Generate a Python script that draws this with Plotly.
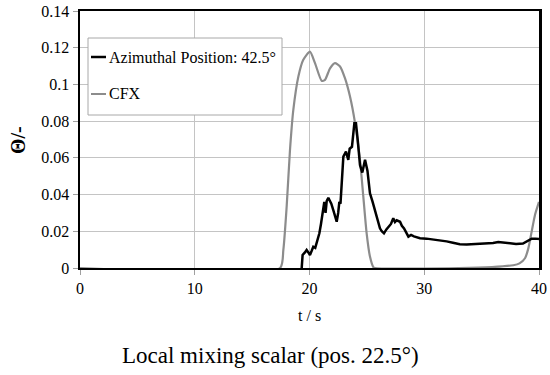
import plotly.graph_objects as go

# ---- data ----
series_names = ["Azimuthal Position: 42.5°", "CFX"]

t_exp = [19.32, 19.36, 19.4, 19.6, 19.75, 19.9, 20.04, 20.2, 20.33, 20.5, 20.7, 20.86, 21.0,
         21.15, 21.29, 21.4, 21.5, 21.64, 21.8, 21.9, 22.1, 22.37, 22.5, 22.6, 22.7, 22.8,
         22.95, 23.18, 23.3, 23.38, 23.5, 23.7, 23.91, 24.05, 24.2, 24.4, 24.6, 24.84,
         25.05, 25.27, 25.5, 25.71, 25.9, 26.14, 26.3, 26.49, 26.7, 26.87, 27.1, 27.3,
         27.45, 27.6, 27.89, 28.05, 28.24, 28.62, 28.85, 29.1, 29.63, 30.2, 30.6, 31.08,
         31.5, 31.95, 32.5, 33.1, 33.7, 34.3, 34.8, 35.4, 36.0, 36.45, 37.0, 37.45, 38.0,
         38.6, 39.0, 39.36, 39.7, 40.0]
v_exp = [0, 0.005, 0.0071, 0.0085, 0.0098, 0.0085, 0.0071, 0.0095, 0.0116, 0.011, 0.015,
         0.0189, 0.024, 0.0298, 0.036, 0.030, 0.0365, 0.0383, 0.036, 0.035, 0.031, 0.0252,
         0.030, 0.036, 0.035, 0.045, 0.0607, 0.0634, 0.061, 0.0589, 0.065, 0.066, 0.0789,
         0.0789, 0.0698, 0.0561, 0.052, 0.0589, 0.053, 0.0407, 0.036, 0.0316, 0.027, 0.0216,
         0.020, 0.0189, 0.021, 0.0225, 0.024, 0.0271, 0.025, 0.026, 0.0252, 0.023, 0.0216,
         0.0171, 0.018, 0.0172, 0.0162, 0.016, 0.0157, 0.0155, 0.015, 0.0145, 0.0138, 0.013,
         0.0128, 0.013, 0.0131, 0.0133, 0.0136, 0.0142, 0.0138, 0.0133, 0.0131, 0.0133,
         0.0145, 0.016, 0.016, 0.0158]

t_cfx = [0, 17.43, 17.72, 18.01, 18.3, 18.59, 19.03, 19.46, 20.04, 20.48, 21.06, 21.35,
         21.79, 22.22, 22.66, 23.09, 23.53, 23.97, 24.4, 24.69, 24.98, 25.27, 25.56, 25.7,
         33.0, 35.9, 37.76, 38.3, 38.78, 39.07, 39.36, 39.65, 40.0]
v_cfx = [0, 0, 0.0098, 0.0334, 0.0643, 0.0861, 0.1043, 0.1134, 0.1179, 0.1116, 0.102,
         0.1025, 0.1088, 0.1116, 0.1098, 0.1034, 0.0934, 0.0789, 0.0589, 0.0389, 0.0189,
         0.0062, 0.0005, 0, 0, 0.0005, 0.0015, 0.0025, 0.0053, 0.0107, 0.0198, 0.0289,
         0.036]

x_ticks = [0, 10, 20, 30, 40]
y_ticks = [0, 0.02, 0.04, 0.06, 0.08, 0.1, 0.12, 0.14]
y_tick_labels = ["0", "0.02", "0.04", "0.06", "0.08", "0.1", "0.12", "0.14"]

FONT = "Liberation Serif, Times New Roman, serif"
BLACK = "#000000"
GRAY = "#8c8c8c"

fig = go.Figure()
fig.add_trace(go.Scatter(x=t_cfx, y=v_cfx, mode="lines", name=series_names[1],
                         line=dict(color=GRAY, width=2.2, shape="spline", smoothing=0.6),
                         cliponaxis=False, showlegend=False))
fig.add_trace(go.Scatter(x=t_exp, y=v_exp, mode="lines", name=series_names[0],
                         line=dict(color=BLACK, width=2.5), cliponaxis=False,
                         showlegend=False))

# plot area on screen = x 80..539, y 11..268
fig.update_layout(
    width=550, height=375,
    margin=dict(l=80, r=11, t=11, b=107),
    paper_bgcolor="white", plot_bgcolor="white",
    font=dict(family=FONT, size=16, color="black"),
    showlegend=False,
)
fig.update_xaxes(range=[0, 40], tickvals=x_ticks, showgrid=True, gridcolor="#c4c4c4",
                 gridwidth=1, showline=True, linecolor=BLACK, linewidth=2, mirror=True,
                 ticks="outside", ticklen=5, tickcolor="#a0a0a0", zeroline=False,
                 automargin=False, layer="below traces", ticklabeloverflow="allow",
                 tickfont=dict(family=FONT, size=16, color="black"))
fig.update_yaxes(range=[0, 0.14], tickvals=y_ticks, ticktext=y_tick_labels, showgrid=True,
                 gridcolor="#c4c4c4", gridwidth=1, showline=True, linecolor=BLACK,
                 linewidth=2.5, mirror=True, ticks="outside", ticklen=5,
                 tickcolor="#a0a0a0", zeroline=False, automargin=False,
                 ticklabeloverflow="allow",
                 tickfont=dict(family=FONT, size=16, color="black"))

# custom legend box (screen pixel helpers)
W, H = 459.0, 257.0
def px(xp):
    return (xp - 80) / W
def py(yp):
    return (268 - yp) / H

fig.add_shape(type="rect", xref="paper", yref="paper", x0=px(88), x1=px(282),
              y0=py(115), y1=py(38), line=dict(color="#a8a8a8", width=1),
              fillcolor="white", layer="above")
legend_items = [(series_names[0], BLACK, 2.5, 57), (series_names[1], GRAY, 2, 94)]
for name, col, w, yy in legend_items:
    fig.add_shape(type="line", xref="paper", yref="paper", x0=px(91), x1=px(106),
                  y0=py(yy), y1=py(yy), line=dict(color=col, width=w), layer="above")
    fig.add_annotation(text=name, xref="paper", yref="paper", x=px(107), y=py(yy),
                       xanchor="left", yanchor="middle", showarrow=False,
                       font=dict(family=FONT, size=16, color="black"))

# axis titles and caption
fig.add_annotation(text="<b>Θ/-</b>", xref="paper", yref="paper", x=px(18), y=py(140),
                   textangle=-90, showarrow=False, xanchor="center", yanchor="middle",
                   font=dict(family=FONT, size=20, color="black"))
fig.add_annotation(text="t / s", xref="paper", yref="paper", x=px(309.5), y=py(315),
                   showarrow=False, xanchor="center", yanchor="middle",
                   font=dict(family=FONT, size=16, color="black"))
fig.add_annotation(text="Local mixing scalar (pos. 22.5°)", xref="paper", yref="paper",
                   x=px(270), y=py(355), showarrow=False, xanchor="center",
                   yanchor="middle", font=dict(family=FONT, size=23, color="black"))

fig.write_html("out.html",
               config={"displayModeBar": False, "staticPlot": True},
               post_script="document.body.style.margin='0';document.body.style.overflow='hidden';")
